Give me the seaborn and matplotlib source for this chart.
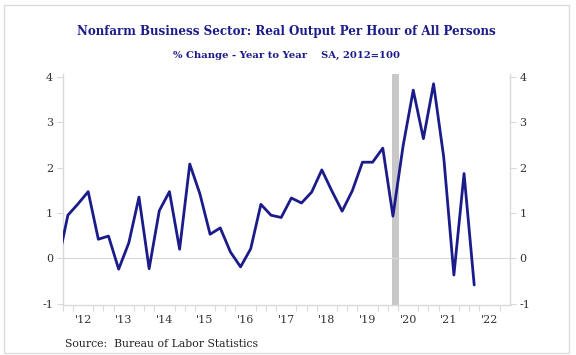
import pandas as pd
import seaborn as sns
import matplotlib.pyplot as plt
from matplotlib.patches import Rectangle

# quarterly y/y % change, 2011Q4 .. 2022Q1 (2011Q4 only shows as the clipped start of the line)
quarters = pd.period_range('2011Q4', '2022Q1', freq='Q')
values = [-0.12,
          0.95, 1.20, 1.47, 0.42,
          0.49, -0.24, 0.34, 1.35,
          -0.23, 1.05, 1.47, 0.20,
          2.08, 1.42, 0.53, 0.67,
          0.14, -0.19, 0.21, 1.19,
          0.95, 0.90, 1.33, 1.22,
          1.46, 1.95, 1.48, 1.04,
          1.49, 2.12, 2.12, 2.43,
          0.93, 2.48, 3.71, 2.64,
          3.85, 2.23, -0.37, 1.87,
          -0.59]
recession = (2020.11, 2020.27)  # Feb-Apr 2020
yticks = [-1, 0, 1, 2, 3, 4]
years = list(range(2012, 2023))

navy = '#1b1b8a'
grey = '#d9d9d9'

# plot each quarter at its middle, in decimal years
df = pd.DataFrame({'x': quarters.year + (quarters.quarter - 1) / 4 + 0.125, 'value': values})

sns.set_style('white')
plt.rcParams['font.family'] = ['DejaVu Serif']

fig = plt.figure(figsize=(5.76, 3.55), dpi=100)
ax = fig.add_axes([0.109, 0.141, 0.776, 0.651])

ax.axvspan(recession[0], recession[1], color='#c8c8c8', lw=0, zorder=1)
ax.axhline(0, color=grey, lw=0.9, zorder=1)
sns.lineplot(data=df, x='x', y='value', ax=ax, color=navy, lw=2.0, zorder=3)

ax.set_xlim(2012, 2023)
ax.set_ylim(-1.03, 4.07)
ax.set_xlabel('')
ax.set_ylabel('')

ax.set_yticks(yticks)
ax.set_yticklabels([str(t) for t in yticks])
ax.tick_params(axis='y', which='both', left=True, right=True, labelleft=True, labelright=True,
               length=4, width=0.8, color=grey, labelsize=8, labelcolor='#333333', pad=3)

# year labels centred in each year, quarter ticks on the axis
ax.set_xticks([y + 0.5 for y in years])
ax.set_xticklabels([f"'{str(y)[2:]}" for y in years])
ax.set_xticks([y + q / 4 for y in years for q in range(4)], minor=True)
ax.tick_params(axis='x', which='major', length=0, labelsize=8, labelcolor='#333333', pad=7)
ax.tick_params(axis='x', which='minor', length=4, width=0.8, color=grey, bottom=True)

for side in ['left', 'right', 'bottom']:
    ax.spines[side].set_visible(True)
    ax.spines[side].set_color(grey)
    ax.spines[side].set_linewidth(1.0)
ax.spines['top'].set_visible(False)

fig.text(0.497, 0.91, 'Nonfarm Business Sector: Real Output Per Hour of All Persons',
         ha='center', va='center', fontsize=8.6, fontweight='bold', color=navy)
fig.text(0.497, 0.845, '% Change - Year to Year    SA, 2012=100',
         ha='center', va='center', fontsize=7.2, fontweight='bold', color=navy)
fig.text(0.113, 0.031, 'Source:  Bureau of Labor Statistics',
         ha='left', va='center', fontsize=7.8, color='#222222')

fig.patches.append(Rectangle((4 / 576, 2 / 355), 565 / 576, 348 / 355, transform=fig.transFigure,
                             fill=False, edgecolor='#dcdcdc', lw=1.0))

fig.savefig('out.png', dpi=100)
